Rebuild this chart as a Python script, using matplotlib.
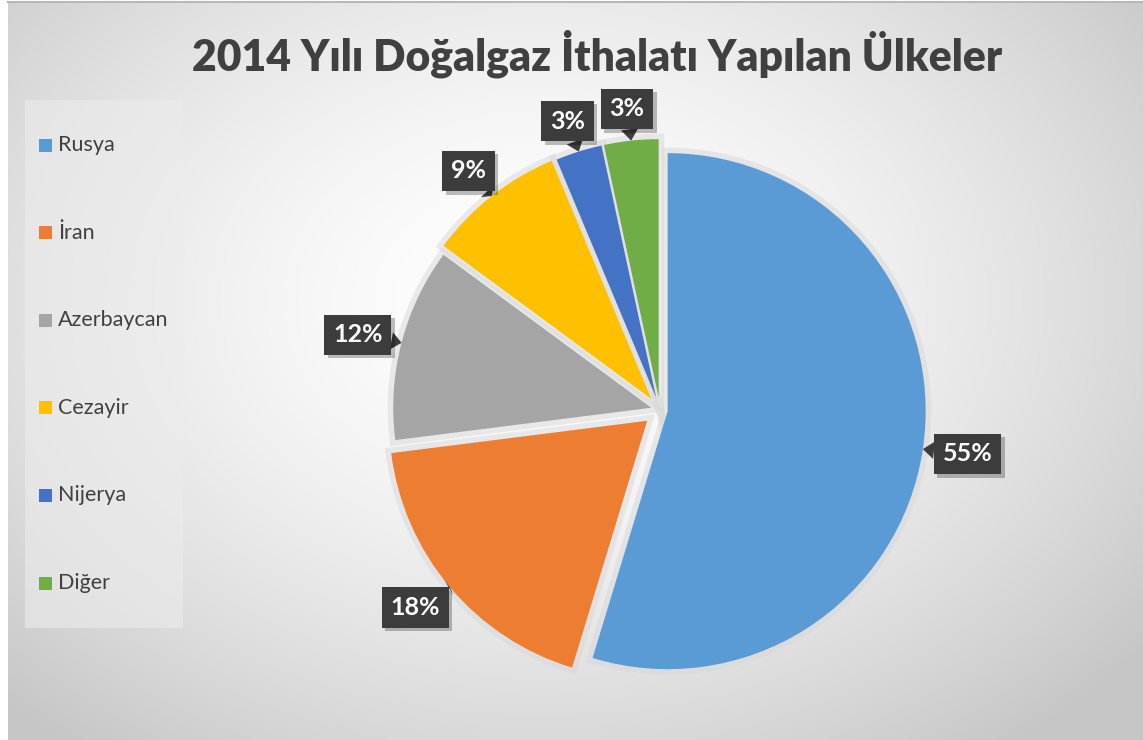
import numpy as np
import matplotlib
matplotlib.use('Agg')
import matplotlib.pyplot as plt
import matplotlib.patheffects as pe
from matplotlib.patches import Rectangle

# veriler
ulkeler = ['Rusya', 'İran', 'Azerbaycan', 'Cezayir', 'Nijerya', 'Diğer']
paylar = [54.7, 18.3, 12.1, 8.6, 2.9, 3.4]
renkler = ['#5b9bd5', '#ed7d31', '#a5a5a5', '#ffc000', '#4472c4', '#70ad47']
patlama = [0.03, 0.065, 0.035, 0.055, 0.05, 0.05]
baslik = '2014 Yılı Doğalgaz İthalatı Yapılan Ülkeler'

plt.rcParams['font.family'] = ['Lato', 'DejaVu Sans']

W, H = 1143, 740
fig = plt.figure(figsize=(W / 100, H / 100), dpi=100)
fig.patch.set_facecolor('white')

# arka plan (piksel koordinatlari)
bg = fig.add_axes([0, 0, 1, 1])
yy, xx = np.mgrid[2:H, 8:W]
r = np.sqrt(((xx - 540) / 760.) ** 2 + ((yy - 300) / 560.) ** 2)
ton = 1.0 - 0.22 * np.clip(r, 0, 1) ** 1.6
bg.imshow(np.dstack([ton] * 3), extent=(8, W, H, 2), aspect='auto',
          interpolation='bilinear', zorder=0)
bg.plot([8, W], [2, 2], color='#b8b8b8', lw=1.5, zorder=1)
bg.set_xlim(0, W)
bg.set_ylim(H, 0)
bg.axis('off')

# baslik
t = bg.text(597, 70, baslik, ha='center', va='baseline', fontsize=32,
            fontweight='heavy', color='#404040')
fig.canvas.draw()
bb = t.get_window_extent()
t.set_fontsize(32 * 811 / bb.width)

# lejant
bg.add_patch(Rectangle((25, 100), 158, 528, fc='#ececec', alpha=0.6,
                       ec='none', zorder=2))
for i, (ad, renk) in enumerate(zip(ulkeler, renkler)):
    y = 145 + 87.6 * i
    bg.add_patch(Rectangle((39, y - 6.5), 13, 13, fc=renk, ec='none', zorder=3))
    bg.text(58, y, ad, va='center', ha='left', fontsize=15.5,
            color='#404040', zorder=3)

# pasta
R = 258
cx, cy = 660, 410
L = 1.3
ax = fig.add_axes([(cx - L * R) / W, (H - cy - L * R) / H,
                   2 * L * R / W, 2 * L * R / H])
ax.set_xlim(-L, L)
ax.set_ylim(-L, L)
ax.axis('off')

# golge
ax.pie(paylar, explode=patlama, startangle=90, counterclock=False,
       colors=['#d8d8d8'] * len(paylar),
       wedgeprops=dict(ec='#d8d8d8', lw=8, alpha=0.5))
dilimler, _ = ax.pie(paylar, explode=patlama, colors=renkler, startangle=90,
                     counterclock=False, wedgeprops=dict(linewidth=0))
ax.set_xlim(-L, L)
ax.set_ylim(-L, L)

etiketler = []
for w, v in zip(dilimler, paylar):
    orta = np.deg2rad((w.theta1 + w.theta2) / 2)
    mx, my = w.center
    uc = (mx + np.cos(orta) * 1.0, my + np.sin(orta) * 1.0)
    a = ax.annotate(f'{v:.0f}%', xy=uc, xytext=uc, ha='center', va='center',
                    fontsize=18, fontweight='bold', color='white', zorder=5,
                    bbox=dict(boxstyle='square,pad=0.35', fc='#3c3c3c', ec='none'),
                    arrowprops=dict(arrowstyle='wedge,tail_width=0.7,shrink_factor=0.5',
                                    fc='#3c3c3c', ec='none', shrinkA=0, shrinkB=0))
    a.get_bbox_patch().set_path_effects([
        pe.SimplePatchShadow(offset=(2.5, -2.5), shadow_rgbFace='#000000', alpha=0.25),
        pe.Normal()])
    etiketler.append((a, orta, mx, my))

# kutulari dilim kenarinin disina yerlestir
fig.canvas.draw()
for a, orta, mx, my in etiketler:
    kb = a.get_bbox_patch().get_window_extent()
    hw, hh = kb.width / 2 / R, kb.height / 2 / R
    dx, dy = np.cos(orta), np.sin(orta)
    a.xyann = (mx + dx * 1.045 + dx * hw, my + dy * 1.045 + dy * hh)

fig.savefig('out.png', dpi=100)
